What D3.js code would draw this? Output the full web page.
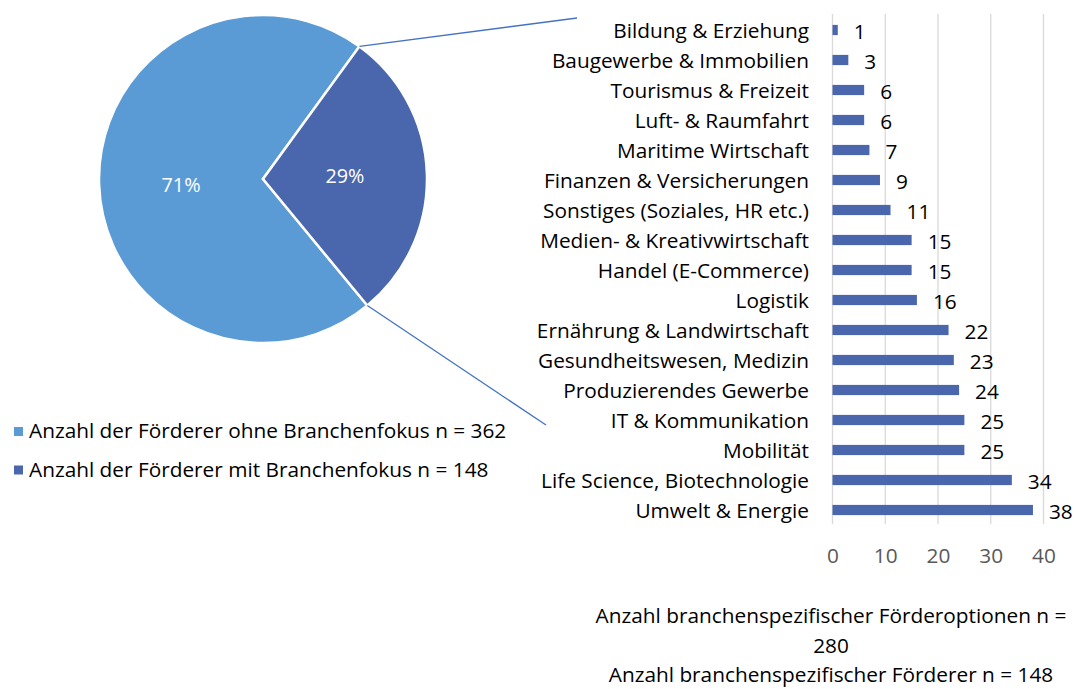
<!DOCTYPE html>
<html><head><meta charset="utf-8">
<script src="https://cdn.jsdelivr.net/npm/d3@7"></script>
<style>body{margin:0;background:#fff}svg{display:block}text{font-family:"Open Sans",Lato,sans-serif}</style>
</head><body><svg id="c" width="1076" height="689"></svg>
<script>
const pieLabels = ["Anzahl der Förderer ohne Branchenfokus n = 362", "Anzahl der Förderer mit Branchenfokus n = 148"];
const pieValues = [362, 148];
const pieColors = ["#5B9BD5", "#4A66AC"];
const categories = ["Bildung & Erziehung","Baugewerbe & Immobilien","Tourismus & Freizeit","Luft- & Raumfahrt","Maritime Wirtschaft","Finanzen & Versicherungen","Sonstiges (Soziales, HR etc.)","Medien- & Kreativwirtschaft","Handel (E-Commerce)","Logistik","Ernährung & Landwirtschaft","Gesundheitswesen, Medizin","Produzierendes Gewerbe","IT & Kommunikation","Mobilität","Life Science, Biotechnologie","Umwelt & Energie"];
const barValues = [1,3,6,6,7,9,11,15,15,16,22,23,24,25,25,34,38];
const xTicks = [0,10,20,30,40];
const footer = ["Anzahl branchenspezifischer Förderoptionen n =", "280", "Anzahl branchenspezifischer Förderer n = 148"];

const svg = d3.select("#c");
const FS = 20.8;

// Pie
const cx = 263, cy = 179, R = 164;
const a0 = 140.5 * Math.PI / 180;
const pie = d3.pie().sort(null).startAngle(a0).endAngle(a0 + 2 * Math.PI);
const arcs = pie(pieValues);
const arc = d3.arc().innerRadius(0).outerRadius(R);
const g = svg.append("g").attr("transform", `translate(${cx},${cy})`);
g.selectAll("path").data(arcs).join("path")
  .attr("d", arc).attr("fill", (d, i) => pieColors[i])
  .attr("stroke", "#fff").attr("stroke-width", 2.5).attr("stroke-linejoin", "miter");
const total = d3.sum(pieValues);
const lab = d3.arc().innerRadius(R * 0.5).outerRadius(R * 0.5);
g.selectAll("text.pl").data(arcs).join("text")
  .attr("transform", d => `translate(${lab.centroid(d)})`)
  .attr("text-anchor", "middle").attr("dy", (d, i) => i === 0 ? "0.55em" : "0.35em")
  .attr("fill", "#fff").attr("font-size", FS - 1)
  .text(d => Math.round(d.data / total * 100) + "%");

// Connectors
const dark = arcs[1];
const pt = a => [cx + R * Math.sin(a), cy - R * Math.cos(a)];
const p1 = pt(dark.startAngle), p2 = pt(dark.endAngle);
svg.append("line").attr("x1", p1[0]).attr("y1", p1[1]).attr("x2", 577).attr("y2", 18)
  .attr("stroke", "#4472C4").attr("stroke-width", 1.3);
svg.append("line").attr("x1", p2[0]).attr("y1", p2[1]).attr("x2", 546).attr("y2", 425)
  .attr("stroke", "#4472C4").attr("stroke-width", 1.3);

// Legend
pieLabels.forEach((t, i) => {
  const y = 431 + i * 38.5;
  svg.append("rect").attr("x", 14).attr("y", y - 4).attr("width", 9).attr("height", 9).attr("fill", pieColors[i]);
  svg.append("text").attr("x", 29).attr("y", y).attr("dy", "0.35em").attr("font-size", FS).attr("fill", "#000").text(t);
});

// Bars
const x = d3.scaleLinear().domain([0, 40]).range([832.5, 1043.5]);
const y = d3.scaleBand().domain(categories).range([15, 525]).paddingInner(0.66).paddingOuter(0.33);
const bg = svg.append("g");
bg.selectAll("line.grid").data(xTicks).join("line")
  .attr("x1", d => x(d)).attr("x2", d => x(d)).attr("y1", 14).attr("y2", 524)
  .attr("stroke", "#D9D9D9").attr("stroke-width", 1.3);
bg.selectAll("rect").data(barValues).join("rect")
  .attr("x", x(0)).attr("y", (d, i) => y(categories[i]))
  .attr("width", d => x(d) - x(0)).attr("height", y.bandwidth())
  .attr("fill", "#4A66AC");
bg.selectAll("text.v").data(barValues).join("text")
  .attr("x", d => x(d) + 16).attr("y", (d, i) => y(categories[i]) + y.bandwidth() / 2 + 2)
  .attr("dy", "0.35em").attr("font-size", FS).attr("fill", "#000").text(d => d);
bg.selectAll("text.c").data(categories).join("text")
  .attr("x", 809).attr("y", d => y(d) + y.bandwidth() / 2 + 0.5)
  .attr("dy", "0.35em").attr("text-anchor", "end").attr("font-size", FS).attr("fill", "#000").text(d => d);
const xAxis = d3.axisBottom(x).tickValues(xTicks).tickSize(0).tickPadding(0);
const ax = svg.append("g").attr("transform", "translate(0,556)").call(xAxis);
ax.select(".domain").remove();
ax.selectAll("text").attr("dy", "0.35em").attr("font-size", FS).attr("fill", "#595959").attr("font-family", "Open Sans");

// Footer
footer.forEach((t, i) => {
  svg.append("text").attr("x", 831).attr("y", 616 + i * 29.5).attr("dy", "0.35em")
    .attr("text-anchor", "middle").attr("font-size", FS).attr("fill", "#000").text(t);
});
</script></body></html>
